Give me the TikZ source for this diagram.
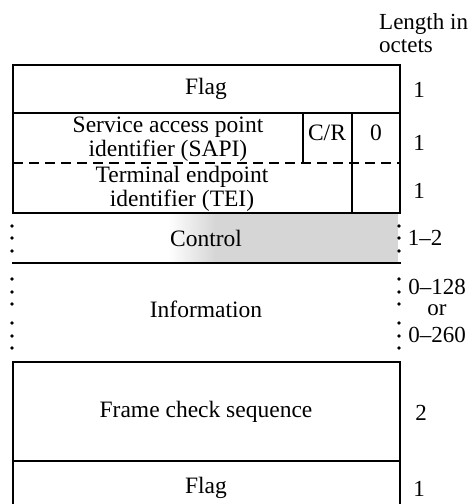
\documentclass[tikz,border=0pt]{standalone}
\usepackage{fontspec}
\setmainfont{Liberation Serif}
\begin{document}
\begin{tikzpicture}[x=1pt,y=-1pt,
  frame/.style={line width=1.5pt,line cap=rect},
  sep/.style={line width=1.3pt,dash pattern=on 10pt off 6pt},
  field/.style={inner sep=0pt,align=center,font=\fontsize{23.5}{24}\selectfont},
  octets/.style={inner sep=0pt,align=center,font=\fontsize{23}{25}\selectfont},
  dotmark/.style={fill=black,circle,inner sep=0pt,minimum size=3.6pt}]
\useasboundingbox (0,0) rectangle (469,504);

% stippled control field
\shade[left color=white,right color=gray!32] (168,214) rectangle (215,262);
\fill[gray!32] (215,214) rectangle (398,262);

% address block: flag, SAPI/C/R/0, TEI
\draw[frame] (13,65) rectangle (400,213);
\draw[frame] (13,113) -- (400,113);
\draw[sep] (13,163) -- (400,163);
\draw[frame] (303,113) -- (303,163);
\draw[frame] (352,113) -- (352,213);

% control lower edge
\draw[frame] (13,263) -- (400,263);

% frame check sequence and closing flag
\draw[frame] (13,362) rectangle (400,461);
\draw[frame] (13,461) -- (13,504);
\draw[frame] (400,461) -- (400,504);

% variable-length markers
\foreach \yy [count=\i] in {226,238,251,279,292,304,323,336,348} {
  \node[dotmark] (l\i) at (12,\yy) {};
  \node[dotmark] (r\i) at (399,\yy) {};
}

% field names
\node[field] (flag1) at (206,89) {Flag};
\node[field] (sapi) at (168,139) {Service access point\\identifier (SAPI)};
\node[field] (cr) at (327,133) {C/R};
\node[field] (zero) at (376,133) {0};
\node[field] (tei) at (182,189) {Terminal endpoint\\identifier (TEI)};
\node[field] (ctrl) at (206,238) {Control};
\node[field] (info) at (206,309) {Information};
\node[field] (fcs) at (206,412) {Frame check sequence};
\node[field] (flag2) at (206,488) {Flag};

% octet counts
\node[octets,anchor=west] (head1) at (379,24) {Length in};
\node[octets,anchor=west] (head2) at (379,46) {octets};
\node[octets] (n1) at (419,90) {1};
\node[octets] (n2) at (419,143) {1};
\node[octets] (n3) at (419,191) {1};
\node[octets] (n4) at (425,238) {1--2};
\node[octets] (n5) at (437,287) {0--128};
\node[octets] (n6) at (437,310) {or};
\node[octets] (n7) at (437,335) {0--260};
\node[octets] (n8) at (421,413) {2};
\node[octets] (n9) at (419,489) {1};
\end{tikzpicture}
\end{document}
